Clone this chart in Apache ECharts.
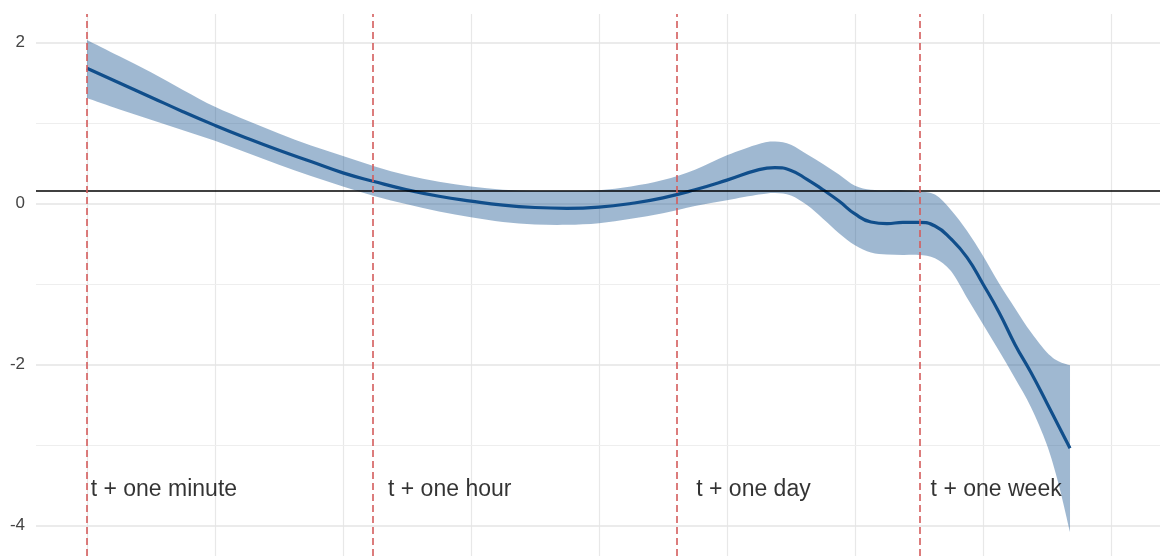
<!DOCTYPE html>
<html>
<head>
<meta charset="utf-8">
<script src="https://cdn.jsdelivr.net/npm/echarts@6/dist/echarts.min.js"></script>
<style>
html,body{margin:0;padding:0;background:#fff;}
#chart{width:1160px;height:556px;}
</style>
</head>
<body>
<div id="chart"></div>
<script>
// ---- data ----
const xs    = [0, 0.25, 0.5, 0.75, 1.0, 1.25, 1.5, 1.75, 2.0, 2.25, 2.5, 2.75, 3.0, 3.25, 3.5, 3.75, 4.0, 4.25, 4.5, 4.75, 5.0, 5.25, 5.375, 5.5, 5.625, 5.75, 5.875, 6.0, 6.125, 6.25, 6.375, 6.5, 6.625, 6.75, 6.875, 7.0, 7.125, 7.25, 7.375, 7.5, 7.59, 7.68];
const fit   = [1.68, 1.50, 1.32, 1.14, 0.97, 0.81, 0.66, 0.52, 0.38, 0.27, 0.17, 0.09, 0.03, -0.02, -0.05, -0.06, -0.045, 0.00, 0.07, 0.17, 0.29, 0.42, 0.445, 0.41, 0.30, 0.17, 0.03, -0.13, -0.23, -0.25, -0.235, -0.235, -0.28, -0.44, -0.67, -1.00, -1.35, -1.75, -2.10, -2.48, -2.76, -3.04];
const upper = [2.03, 1.83, 1.63, 1.41, 1.20, 1.03, 0.87, 0.72, 0.59, 0.46, 0.35, 0.27, 0.21, 0.17, 0.155, 0.155, 0.165, 0.21, 0.29, 0.42, 0.60, 0.74, 0.77, 0.73, 0.61, 0.49, 0.36, 0.22, 0.17, 0.165, 0.165, 0.15, 0.11, -0.08, -0.34, -0.65, -0.99, -1.30, -1.60, -1.85, -1.96, -2.01];
const lower = [1.31, 1.17, 1.04, 0.91, 0.78, 0.63, 0.48, 0.34, 0.21, 0.09, -0.01, -0.10, -0.17, -0.23, -0.26, -0.265, -0.245, -0.19, -0.12, -0.03, 0.04, 0.11, 0.13, 0.10, -0.02, -0.19, -0.37, -0.52, -0.61, -0.635, -0.64, -0.64, -0.68, -0.84, -1.17, -1.50, -1.83, -2.17, -2.53, -3.00, -3.48, -4.08];

const eventX      = [0.002, 2.234, 4.607, 6.510];
const eventLabels = ['t + one minute', 't + one hour', 't + one day', 't + one week'];
const labelX      = [0.029, 2.352, 4.760, 6.591];
const labelY      = -3.55;
const refLineY    = 0.158;

const yTickLabels = [-4, -2, 0, 2];
const yMinorGrid  = [-3, -1, 1];
const xGrid       = [0, 1, 2, 3, 4, 5, 6, 7, 8];

const xMin = -0.398, xMax = 8.383;
const yMin = -4.378, yMax = 2.353;

// ---- build ----
const bandData = xs.map((x, i) => [x, lower[i], upper[i]]);
const fitData  = xs.map((x, i) => [x, fit[i]]);

const gridLines = []
  .concat(xGrid.map(v => ({ xAxis: v, lineStyle: { color: '#e8e8e8', width: 1.2, type: 'solid' } })))
  .concat(yTickLabels.map(v => ({ yAxis: v, lineStyle: { color: '#e5e5e5', width: 1.5, type: 'solid' } })))
  .concat(yMinorGrid.map(v => ({ yAxis: v, lineStyle: { color: '#eeeeee', width: 1, type: 'solid' } })));

// Catmull-Rom spline through pixel points -> SVG path commands
function splinePath(pts, moveFirst) {
  let d = (moveFirst ? 'M' : 'L') + pts[0][0] + ',' + pts[0][1];
  for (let i = 0; i < pts.length - 1; i++) {
    const p0 = pts[i - 1] || pts[i];
    const p1 = pts[i];
    const p2 = pts[i + 1];
    const p3 = pts[i + 2] || p2;
    const c1x = p1[0] + (p2[0] - p0[0]) / 6, c1y = p1[1] + (p2[1] - p0[1]) / 6;
    const c2x = p2[0] - (p3[0] - p1[0]) / 6, c2y = p2[1] - (p3[1] - p1[1]) / 6;
    d += 'C' + c1x + ',' + c1y + ',' + c2x + ',' + c2y + ',' + p2[0] + ',' + p2[1];
  }
  return d;
}

function renderBand(params, api) {
  if (params.dataIndexInside !== 0) return null;
  const n = params.dataInsideLength;
  const up = [], lo = [];
  for (let i = 0; i < n; i++) {
    const x = api.value(0, i);
    up.push(api.coord([x, api.value(2, i)]));
    lo.push(api.coord([x, api.value(1, i)]));
  }
  lo.reverse();
  const d = splinePath(up, true) + splinePath(lo, false) + 'Z';
  return {
    type: 'path',
    shape: { pathData: d },
    style: { fill: 'rgba(16,78,139,0.4)', stroke: null }
  };
}

const chart = echarts.init(document.getElementById('chart'), null, { renderer: 'canvas' });
chart.setOption({
  animation: false,
  backgroundColor: '#ffffff',
  textStyle: { fontFamily: 'Liberation Sans, Arial, sans-serif' },
  grid: { left: 36, right: 0, top: 14, bottom: 0, containLabel: false },
  xAxis: {
    type: 'value', min: xMin, max: xMax,
    axisLine: { show: false }, axisTick: { show: false },
    axisLabel: { show: false }, splitLine: { show: false }
  },
  yAxis: {
    type: 'value', min: yMin, max: yMax,
    axisLine: { show: false }, axisTick: { show: false },
    splitLine: { show: false },
    axisLabel: {
      customValues: yTickLabels,
      color: '#444444', fontSize: 17, margin: 11,
      fontFamily: 'Liberation Sans, Arial, sans-serif'
    }
  },
  series: [
    {
      name: 'grid', type: 'line', data: [], silent: true, z: 0,
      markLine: { silent: true, z: 0, symbol: 'none', label: { show: false }, animation: false, data: gridLines }
    },
    {
      name: 'band', type: 'custom', data: bandData, silent: true, z: 2,
      encode: { x: 0, y: [1, 2] },
      renderItem: renderBand
    },
    {
      name: 'fit', type: 'line', data: fitData, smooth: true, symbol: 'none',
      lineStyle: { color: '#104E8B', width: 3.2, cap: 'butt' }, silent: true, z: 4
    },
    {
      name: 'ref', type: 'line', data: [], silent: true, z: 8,
      markLine: {
        silent: true, z: 8, symbol: 'none', label: { show: false }, animation: false,
        data: [{ yAxis: refLineY, lineStyle: { color: '#000000', width: 1.6, type: 'solid' } }]
      }
    },
    {
      name: 'events', type: 'line', data: [], silent: true, z: 9,
      markLine: {
        silent: true, z: 9, symbol: 'none', label: { show: false }, animation: false,
        data: eventX.map(v => ({ xAxis: v, lineStyle: { color: '#d45c5c', width: 1.6, type: [7, 4] } }))
      }
    },
    {
      name: 'labels', type: 'scatter', symbolSize: 0, silent: true, z: 10,
      data: labelX.map((x, i) => ({ value: [x, labelY], name: eventLabels[i] })),
      label: {
        show: true, position: 'right', distance: 0,
        formatter: p => p.name, color: '#000000', fontSize: 23,
        fontFamily: 'Liberation Sans, Arial, sans-serif', verticalAlign: 'middle'
      }
    }
  ]
});
</script>
</body>
</html>
